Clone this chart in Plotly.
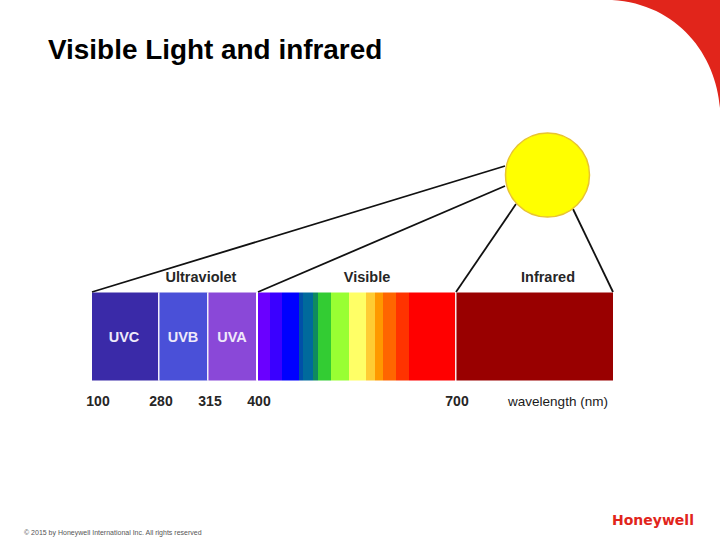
import plotly.graph_objects as go

# spectrum bands, edges along the strip
band_edges = [92, 158.5, 159.5, 207.5, 208.5, 256.5, 258, 270, 282, 299, 303, 313, 318, 331,
              349, 366, 375, 383, 396, 409, 455, 456.5, 613]
band_colors = ["#3a2aa8", "#f2eefa", "#4a50d8", "#f2eefa", "#8a48d8", "#ffffff", "#6a00ff",
               "#3a00ff", "#0000ff", "#0050a8", "#006a9c", "#0f8a5f", "#33cc33", "#99ff33",
               "#ffff66", "#ffcc33", "#ff9900", "#ff6600", "#ff3300", "#ff0000", "#fbe8e8",
               "#990000"]
band_names = ["UVC", "", "UVB", "", "UVA", "", "violet", "violet", "blue", "blue", "teal", "teal",
              "green", "lime", "yellow", "amber", "orange", "orange", "red-orange", "red", "",
              "infrared"]

# rays from the sun down to the strip
ray_sun_x = [505, 505, 516, 573]
ray_sun_y = [166, 186, 204, 209]
ray_end_x = [92, 258, 456, 613]
ray_end_y = [292, 292, 292, 292]

group_labels = ["Ultraviolet", "Visible", "Infrared"]
group_x = [201, 367, 548]
group_y = [278, 278, 278]

uv_labels = ["UVC", "UVB", "UVA"]
uv_x = [124, 183, 232]
uv_y = [338, 338, 338]

tick_labels = ["100", "280", "315", "400", "700"]
tick_x = [98, 161, 210, 259, 457]
tick_y = [402, 402, 402, 402, 402]

widths = [b - a for a, b in zip(band_edges[:-1], band_edges[1:])]

fig = go.Figure()
fig.add_trace(go.Bar(x=widths, y=[336.5] * len(widths), base=band_edges[:-1], orientation="h",
                     width=88, marker_color=band_colors, marker_line_width=0,
                     text=band_names, textposition="none", hoverinfo="text"))

for i in range(len(ray_sun_x)):
    fig.add_trace(go.Scatter(x=[ray_sun_x[i], ray_end_x[i]], y=[ray_sun_y[i], ray_end_y[i]],
                             mode="lines", line=dict(color="#111111", width=1.8)))

fig.add_trace(go.Scatter(x=[547.5], y=[175], mode="markers",
                         marker=dict(size=84, color="#ffff00", line=dict(color="#e8c430", width=1.5))))

fig.add_trace(go.Scatter(x=group_x, y=group_y, mode="text", text=group_labels,
                         textfont=dict(family="Liberation Sans", size=14.5, color="#262626", weight="bold")))
fig.add_trace(go.Scatter(x=uv_x, y=uv_y, mode="text", text=uv_labels,
                         textfont=dict(family="Liberation Sans", size=14.5, color="#efeafa", weight="bold")))
fig.add_trace(go.Scatter(x=tick_x, y=tick_y, mode="text", text=tick_labels,
                         textfont=dict(family="Liberation Sans", size=14, color="#262626", weight="bold")))
fig.add_trace(go.Scatter(x=[558], y=[403], mode="text", text=["wavelength (nm)"],
                         textfont=dict(family="Liberation Sans", size=13.5, color="#1a1a1a")))

fig.update_layout(
    width=720, height=540, margin=dict(l=0, r=0, t=0, b=0),
    paper_bgcolor="white", plot_bgcolor="white", showlegend=False, barmode="overlay",
    title=dict(text="<b>Visible Light and infrared</b>", x=48 / 720, xanchor="left",
               y=1 - 49.5 / 540, yanchor="middle",
               font=dict(family="Liberation Sans", size=27.9, color="#000000")),
    xaxis=dict(range=[0, 720], visible=False, fixedrange=True),
    yaxis=dict(range=[540, 0], visible=False, fixedrange=True),
    shapes=[dict(type="path", xref="x", yref="y", layer="below", line_width=0, fillcolor="#e1251b",
                 path="M 612 0 L 720 0 L 720 108 C 716 55 678 4 612 0 Z")],
    annotations=[
        dict(text="© 2015 by Honeywell International Inc. All rights reserved", x=22, y=533,
             xref="x", yref="y", xanchor="left", yanchor="middle", showarrow=False,
             font=dict(family="Liberation Sans", size=7, color="#555555")),
        dict(text="<b>Honeywell</b>", x=696, y=519.5, xref="x", yref="y", xanchor="right",
             yanchor="middle", showarrow=False,
             font=dict(family="DejaVu Sans", size=14, color="#e1251b")),
    ],
)

fig.write_html("out.html", config=dict(displayModeBar=False),
               post_script="document.body.style.margin='0';")
